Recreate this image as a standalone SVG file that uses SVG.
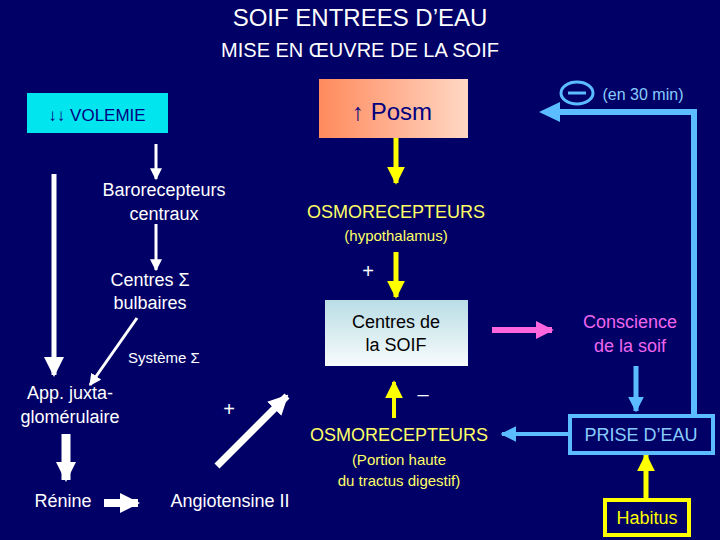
<svg xmlns="http://www.w3.org/2000/svg" width="720" height="540" viewBox="0 0 720 540">
<defs>
<linearGradient id="gPosm" x1="0" y1="0" x2="1" y2="0"><stop offset="0" stop-color="#ff8a5c"/><stop offset="0.5" stop-color="#ffb090"/><stop offset="1" stop-color="#ffd8c4"/></linearGradient>
<linearGradient id="gSoif" x1="0" y1="0" x2="0" y2="1"><stop offset="0" stop-color="#b9dde6"/><stop offset="1" stop-color="#f8fcfc"/></linearGradient>
<marker id="mW" viewBox="0 0 10 10" refX="9" refY="5" markerUnits="userSpaceOnUse" markerWidth="12" markerHeight="12" orient="auto"><path d="M0,0 L10,5 L0,10 z" fill="#fff"/></marker>
<marker id="mWL" viewBox="0 0 10 10" refX="9" refY="5" markerUnits="userSpaceOnUse" markerWidth="20" markerHeight="20" orient="auto"><path d="M0,0 L10,5 L0,10 z" fill="#fff"/></marker>
<marker id="mB" viewBox="0 0 10 10" refX="9" refY="5" markerUnits="userSpaceOnUse" markerWidth="16" markerHeight="16" orient="auto"><path d="M0,0 L10,5 L0,10 z" fill="#5bbcff"/></marker>
<marker id="mY" viewBox="0 0 10 10" refX="9" refY="5" markerUnits="userSpaceOnUse" markerWidth="18" markerHeight="18" orient="auto"><path d="M0,0 L10,5 L0,10 z" fill="#ffff00"/></marker>
<marker id="mM" viewBox="0 0 10 10" refX="9" refY="5" markerUnits="userSpaceOnUse" markerWidth="18" markerHeight="18" orient="auto"><path d="M0,0 L10,5 L0,10 z" fill="#ff66dd"/></marker>
</defs>
<style>
text{font-family:"Liberation Sans",Arial,sans-serif;text-anchor:middle}
.w{fill:#fff;font-size:18px}
.y{fill:#ffff66;font-size:18px}
.ys{fill:#ffff66;font-size:15px}
</style>
<rect width="720" height="540" fill="#000066"/>
<text x="360" y="26" fill="#fff" font-size="24">SOIF ENTREES D’EAU</text>
<text x="360" y="57" fill="#fff" font-size="20">MISE EN ŒUVRE DE LA SOIF</text>

<g id="connectors" fill="none">
<line x1="156" y1="144" x2="156" y2="179" stroke="#fff" stroke-width="3" marker-end="url(#mW)"/>
<line x1="156" y1="224" x2="156" y2="270" stroke="#fff" stroke-width="3" marker-end="url(#mW)"/>
<line x1="54" y1="174" x2="54" y2="375" stroke="#fff" stroke-width="5" marker-end="url(#mWL)"/>
<line x1="137" y1="318" x2="90" y2="385" stroke="#fff" stroke-width="3" marker-end="url(#mW)"/>
<line x1="66" y1="434" x2="66" y2="480" stroke="#fff" stroke-width="9" marker-end="url(#mWL)"/>
<line x1="104" y1="503" x2="138" y2="503" stroke="#fff" stroke-width="8" marker-end="url(#mWL)"/>
<line x1="217" y1="466" x2="287" y2="396" stroke="#fff" stroke-width="7" marker-end="url(#mWL)"/>
<line x1="396" y1="138" x2="396" y2="183" stroke="#ffff00" stroke-width="5" marker-end="url(#mY)"/>
<line x1="396" y1="252" x2="396" y2="297" stroke="#ffff00" stroke-width="5" marker-end="url(#mY)"/>
<line x1="394" y1="418" x2="394" y2="382" stroke="#ffff00" stroke-width="4" marker-end="url(#mY)"/>
<line x1="492" y1="330" x2="552" y2="330" stroke="#ff66dd" stroke-width="6" marker-end="url(#mM)"/>
<line x1="636" y1="366" x2="636" y2="411" stroke="#5bbcff" stroke-width="5" marker-end="url(#mB)"/>
<line x1="568" y1="434" x2="502" y2="434" stroke="#5bbcff" stroke-width="4" marker-end="url(#mB)"/>
<line x1="646" y1="498" x2="646" y2="455" stroke="#ffff00" stroke-width="5" marker-end="url(#mY)"/>
<polyline points="694,416 694,112 556,112" stroke="#5bbcff" stroke-width="6"/>
<path d="M539,112 L560,102 L560,122 z" fill="#5bbcff"/>
</g>

<g id="volemie"><rect x="27" y="93" width="141" height="40" fill="#00e5ee"/><text x="97" y="121" font-size="17" fill="#000080">↓↓ VOLEMIE</text></g>
<g id="posm"><rect x="319" y="79" width="149" height="59" fill="url(#gPosm)"/><text x="392" y="120" font-size="24" fill="#000080">↑ Posm</text></g>
<g id="baro"><text class="w" x="164" y="196">Barorecepteurs</text><text class="w" x="164" y="220">centraux</text></g>
<g id="centresS"><text class="w" x="150" y="286">Centres Σ</text><text class="w" x="150" y="309">bulbaires</text></g>
<g id="systeme"><text x="164" y="363" fill="#fff" font-size="15">Système Σ</text></g>
<g id="app"><text class="w" x="70" y="399">App. juxta-</text><text class="w" x="70" y="423">glomérulaire</text></g>
<g id="renine"><text class="w" x="63" y="507">Rénine</text></g>
<g id="angio"><text class="w" x="230" y="507">Angiotensine II</text></g>
<text x="229" y="416" fill="#fff" font-size="20">+</text>
<g id="osmo1"><text class="y" x="396" y="218">OSMORECEPTEURS</text><text class="ys" x="396" y="241">(hypothalamus)</text></g>
<text x="368" y="278" fill="#fff" font-size="20">+</text>
<g id="soif"><rect x="325" y="300" width="143" height="66" fill="url(#gSoif)"/><text x="396" y="328" font-size="18" fill="#000">Centres de</text><text x="396" y="351" font-size="18" fill="#000">la SOIF</text></g>
<text x="423" y="401" fill="#fff" font-size="20">–</text>
<g id="osmo2"><text class="y" x="399" y="441">OSMORECEPTEURS</text><text class="ys" x="399" y="465">(Portion haute</text><text class="ys" x="399" y="486">du tractus digestif)</text></g>
<g id="conscience"><text x="630" y="328" fill="#ee66ee" font-size="18">Conscience</text><text x="630" y="352" fill="#ee66ee" font-size="18">de la soif</text></g>
<g id="prise"><rect x="570" y="416" width="143" height="37" fill="#000066" stroke="#5bbcff" stroke-width="4"/><text x="641" y="441" font-size="18" fill="#88ccff">PRISE D’EAU</text></g>
<g id="habitus"><rect x="605" y="500" width="84" height="35" fill="#000066" stroke="#ffff00" stroke-width="4"/><text x="647" y="524" font-size="18" fill="#ffff00">Habitus</text></g>
<g id="moins"><ellipse cx="577" cy="93" rx="16" ry="11" fill="none" stroke="#5bbcff" stroke-width="3"/><line x1="568" y1="93" x2="586" y2="93" stroke="#5bbcff" stroke-width="3"/><text x="643" y="100" fill="#88ccff" font-size="16">(en 30 min)</text></g>
</svg>
